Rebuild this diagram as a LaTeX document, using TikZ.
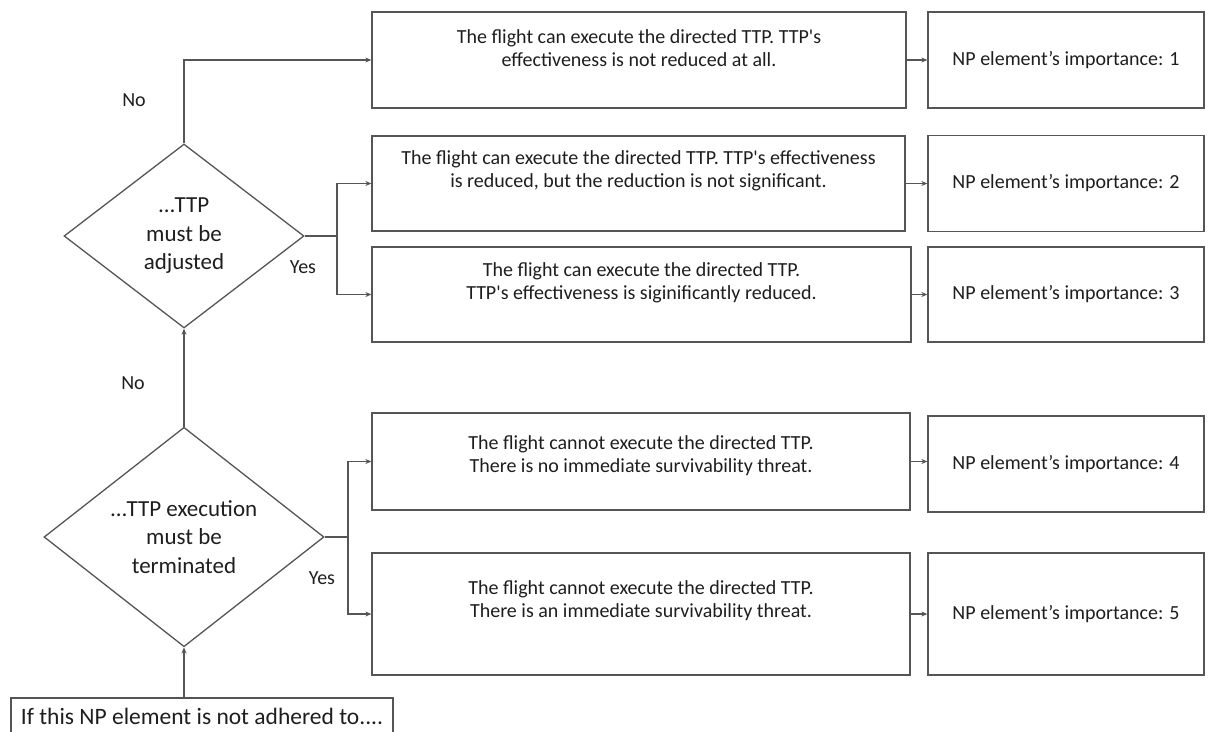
\documentclass[tikz,border=0pt]{standalone}
\usepackage{fontspec}
\setmainfont{Carlito}
\usetikzlibrary{shapes.geometric,arrows.meta}
\definecolor{ln}{HTML}{555555}
\definecolor{tx}{HTML}{1E1E1E}
\tikzset{
  box/.style={draw=ln,line width=1.3pt,rectangle,inner sep=0pt},
  btxt/.style={text=tx,align=center,font=\fontsize{20}{23}\selectfont,inner sep=0pt},
  dia/.style={draw=ln,line width=1.3pt,diamond,inner sep=0pt,text=tx,align=center,font=\fontsize{23}{28.5}\selectfont},
  lbl/.style={text=tx,font=\fontsize{20}{23}\selectfont,inner sep=0pt},
  conn/.style={draw=ln,line width=1.2pt},
  arr/.style={conn,-{Stealth[length=6pt,width=5pt]}}
}
\begin{document}
\begin{tikzpicture}[x=1pt,y=-1pt]
\useasboundingbox (0,0) rectangle (1214,731);
\clip (0,0) rectangle (1214,731);
% middle boxes
\node[box,minimum width=534pt,minimum height=96pt] (a1) at (639,60) {};
\node[btxt] (a1t) at (639,48) {The flight can execute the directed TTP. TTP\textquotesingle s\\effectiveness is not reduced at all.};
\node[box,minimum width=533pt,minimum height=95pt] (a2) at (638.5,183.5) {};
\node[btxt] (a2t) at (638.5,171) {The flight can execute the directed TTP. TTP\textquotesingle s effectiveness\\is reduced, but the reduction is not significant.};
\node[box,minimum width=539pt,minimum height=95pt] (a3) at (641.5,294.5) {};
\node[btxt] (a3t) at (641.5,283) {The flight can execute the directed TTP.\\TTP\textquotesingle s effectiveness is siginificantly reduced.};
\node[box,minimum width=538pt,minimum height=97pt] (a4) at (641,461.5) {};
\node[btxt] (a4t) at (641,456) {The flight cannot execute the directed TTP.\\There is no immediate survivability threat.};
\node[box,minimum width=538pt,minimum height=122pt] (a5) at (641,614) {};
\node[btxt] (a5t) at (641,601) {The flight cannot execute the directed TTP.\\There is an immediate survivability threat.};
% right boxes
\node[box,minimum width=276pt,minimum height=96pt] (b1) at (1066,60) {};
\node[btxt] (b1t) at (1066,60) {NP element’s importance: 1};
\node[box,minimum width=276pt,minimum height=96pt] (b2) at (1066,183.5) {};
\node[btxt] (b2t) at (1066,183.5) {NP element’s importance: 2};
\node[box,minimum width=276pt,minimum height=95pt] (b3) at (1066,294.5) {};
\node[btxt] (b3t) at (1066,294.5) {NP element’s importance: 3};
\node[box,minimum width=276pt,minimum height=96pt] (b4) at (1066,464) {};
\node[btxt] (b4t) at (1066,464) {NP element’s importance: 4};
\node[box,minimum width=276pt,minimum height=122pt] (b5) at (1066,614) {};
\node[btxt] (b5t) at (1066,614) {NP element’s importance: 5};
% diamonds
\node[dia,minimum width=240pt,minimum height=184pt] (d1) at (184,236) {…TTP\\must be\\adjusted};
\node[dia,minimum width=280pt,minimum height=214pt] (d2) at (184,537) {…TTP execution\\must be\\terminated};
% start box
\node[box,minimum width=382pt,minimum height=50pt] (st) at (202,723) {};
\node[text=tx,inner sep=0pt,font=\fontsize{23.5}{28}\selectfont] (stt) at (202,716) {If this NP element is not adhered to....};
% labels
\node[lbl] (no1) at (134,100) {No};
\node[lbl] (no2) at (133,383) {No};
\node[lbl] (yes1) at (303,267) {Yes};
\node[lbl] (yes2) at (322,578) {Yes};
% bus points
\coordinate (bus1) at (337,236);
\coordinate (bus2) at (348,537);
% connectors
\draw[arr] (d1.north) |- (a1.west);
\draw[conn] (d1.east) -- (bus1);
\draw[arr] (bus1) |- (a2.west);
\draw[arr] (bus1) |- (a3.west);
\draw[arr] (d2.north) -- (d1.south);
\draw[conn] (d2.east) -- (bus2);
\draw[arr] (bus2) |- (a4.west);
\draw[arr] (bus2) |- (a5.west);
\draw[arr] (st.north -| d2.south) -- (d2.south);
\draw[arr] (a1.east) -- (b1.west);
\draw[arr] (a2.east) -- (b2.west);
\draw[arr] (a3.east) -- (b3.west);
\draw[arr] (a4.east) -- (a4.east -| b4.west);
\draw[arr] (a5.east) -- (b5.west);
\end{tikzpicture}
\end{document}
